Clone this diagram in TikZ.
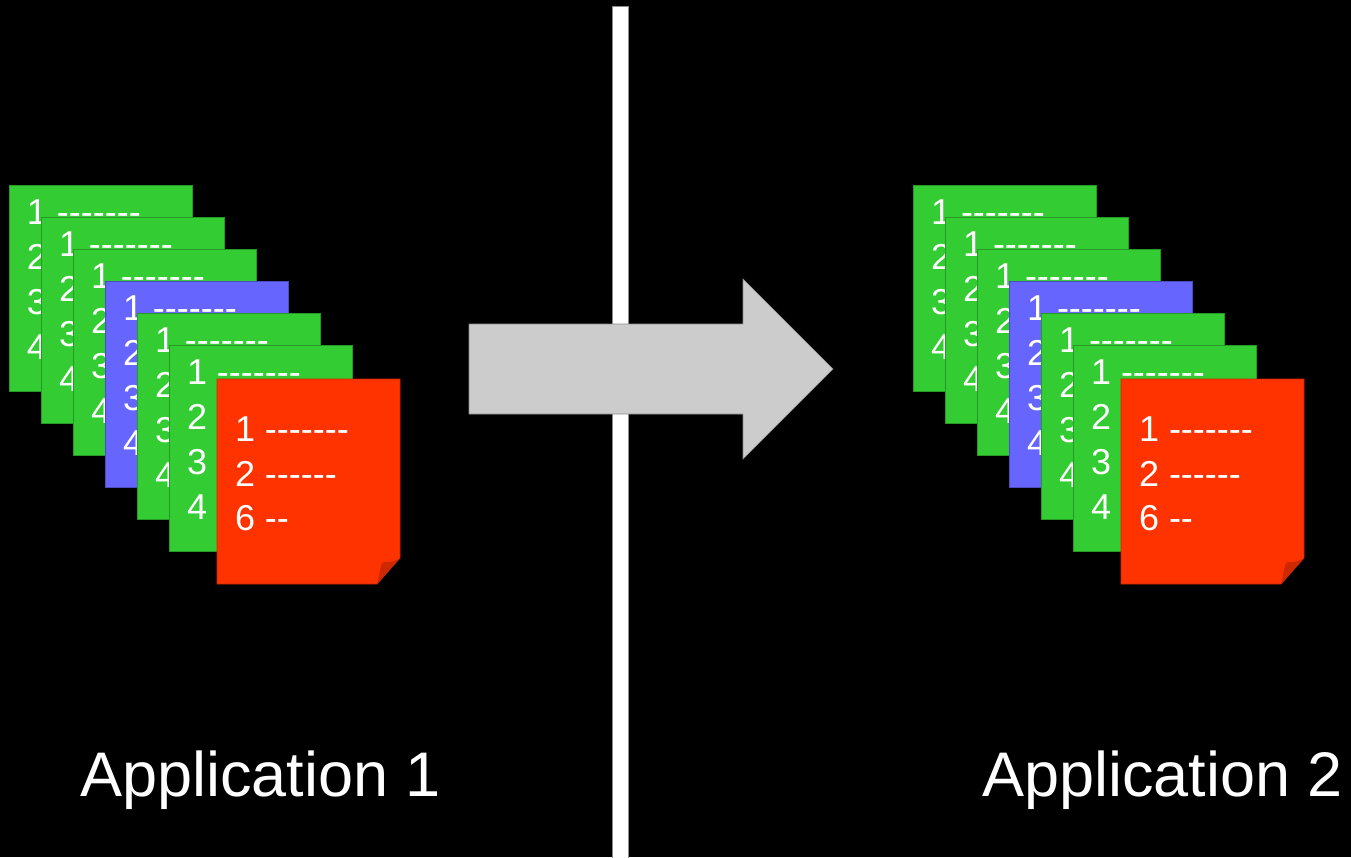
\documentclass[tikz,border=0pt]{standalone}
\usepackage{fontspec}
\setmainfont{Liberation Sans}[Ligatures=TeXOff]

\definecolor{cardgreen}{HTML}{33CC33}
\definecolor{cardblue}{HTML}{6666FF}
\definecolor{cardred}{HTML}{FF3300}
\definecolor{foldred}{HTML}{CC2900}
\definecolor{arrowgray}{HTML}{CCCCCC}
\definecolor{edgegray}{HTML}{8C8C8C}

\tikzset{
  card/.style={draw=#1!75!black, line width=0.6pt, fill=#1,
    minimum width=183pt, minimum height=206pt, anchor=north west,
    inner sep=0pt, outer sep=0pt},
  cardtext/.style={text=white, font=\fontsize{36}{36}\selectfont,
    anchor=base west, inner sep=0pt, outer sep=0pt},
  label/.style={text=white, font=\fontsize{63}{63}\selectfont,
    anchor=base west, inner sep=0pt, outer sep=0pt},
}

% One stack of notes; #1 = horizontal offset, #2 = name prefix
\newcommand\notestack[2]{%
  \begin{scope}[xshift=#1pt]
    \foreach \i/\c in {0/cardgreen,1/cardgreen,2/cardgreen,3/cardblue,4/cardgreen,5/cardgreen}{
      \node[card=\c] (#2card\i) at ({9+32*\i},{185+32*\i}) {};
      \node[cardtext] (#2la\i) at ([shift={(18,39)}]#2card\i.north west) {1 -------};
      \node[cardtext] (#2lb\i) at ([shift={(18,84)}]#2card\i.north west) {2};
      \node[cardtext] (#2lc\i) at ([shift={(18,129)}]#2card\i.north west) {3};
      \node[cardtext] (#2ld\i) at ([shift={(18,174)}]#2card\i.north west) {4};
    }
    % front note with a curled corner
    \coordinate (#2red) at (217,379);
    \fill[cardred, draw=cardred!80!black, line width=0.6pt]
      (#2red) -- ++(183,0) -- ++(0,179) -- ++(-23,26) -- ++(-160,0) -- cycle;
    \fill[foldred]
      ([shift={(160,205)}]#2red) .. controls ([shift={(163,195)}]#2red) and ([shift={(163,186)}]#2red)
      .. ([shift={(166,183)}]#2red) .. controls ([shift={(172,184)}]#2red) and ([shift={(179,182)}]#2red)
      .. ([shift={(183,179)}]#2red) -- cycle;
    \node[cardtext] (#2ra) at ([shift={(18,62)}]#2red) {1 -------};
    \node[cardtext] (#2rb) at ([shift={(18,107)}]#2red) {2 ------};
    \node[cardtext] (#2rc) at ([shift={(18,151)}]#2red) {6 --};
  \end{scope}%
}

\begin{document}
\begin{tikzpicture}[x=1pt, y=-1pt]
  % background
  \fill[black] (0,0) rectangle (1351,857);
  \useasboundingbox (0,0) rectangle (1351,857);

  % divider
  \filldraw[fill=white, draw=edgegray, line width=0.8pt] (612,6) rectangle (628,862);

  % the two stacks
  \notestack{0}{L}
  \notestack{904}{R}

  % big block arrow
  \filldraw[fill=arrowgray, draw=edgegray, line width=0.6pt]
    (469,324) -- (743,324) -- (743,279) -- (833,369) -- (743,459)
    -- (743,414) -- (469,414) -- cycle;

  % captions
  \node[label] (app1) at (80,796) {Application 1};
  \node[label] (app2) at (982,796) {Application 2};
\end{tikzpicture}
\end{document}
